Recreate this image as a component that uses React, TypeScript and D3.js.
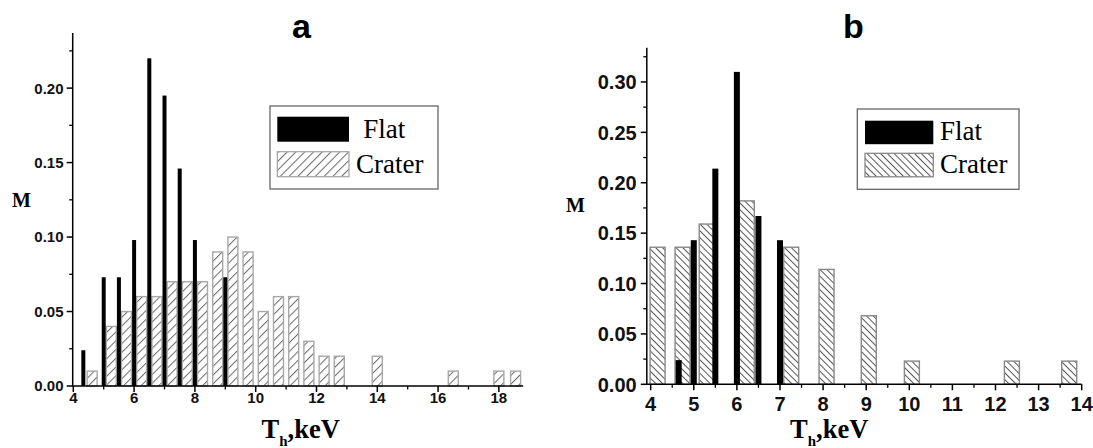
import React from 'react';
import * as d3 from 'd3';

// ---------- data ----------
const aFlatT = [4.33, 5, 5.5, 6, 6.5, 7, 7.5, 8, 9];
const aFlatM = [0.024, 0.073, 0.073, 0.098, 0.22, 0.195, 0.146, 0.098, 0.073];
const aCraterT = [4.62, 5.25, 5.75, 6.25, 6.75, 7.25, 7.75, 8.25, 8.75, 9.25, 9.75, 10.25, 10.75, 11.25, 11.75, 12.25, 12.75, 14.0, 16.5, 18.0, 18.55];
const aCraterM = [0.01, 0.04, 0.05, 0.06, 0.06, 0.07, 0.07, 0.07, 0.09, 0.10, 0.09, 0.05, 0.06, 0.06, 0.03, 0.02, 0.02, 0.02, 0.01, 0.01, 0.01];

const bFlatT = [4.65, 5, 5.5, 6, 6.5, 7];
const bFlatM = [0.024, 0.143, 0.214, 0.31, 0.167, 0.143];
const bCraterT = [4.16, 4.74, 5.3, 6.23, 7.26, 8.08, 9.06, 10.06, 12.38, 13.71];
const bCraterM = [0.136, 0.136, 0.159, 0.182, 0.136, 0.114, 0.068, 0.023, 0.023, 0.023];

const aXTicks = [4, 6, 8, 10, 12, 14, 16, 18];
const aXMinor = [5, 7, 9, 11, 13, 15, 17];
const aYTicks = [0, 0.05, 0.1, 0.15, 0.2];
const aYMinor = [0.025, 0.075, 0.125, 0.175, 0.225];

const bXTicks = [4, 5, 6, 7, 8, 9, 10, 11, 12, 13, 14];
const bXMinor = [4.5, 5.5, 6.5, 7.5, 8.5, 9.5, 10.5, 11.5, 12.5, 13.5];
const bYTicks = [0, 0.05, 0.1, 0.15, 0.2, 0.25, 0.3];
const bYMinor = [0.025, 0.075, 0.125, 0.175, 0.225, 0.275, 0.325];

const legendLabels = ['Flat', 'Crater'];

const SANS = '"Liberation Sans", Arial, sans-serif';
const SERIF = '"Liberation Serif", "Times New Roman", serif';

type PanelProps = {
  id: string;
  title: string;
  flatT: number[]; flatM: number[];
  craterT: number[]; craterM: number[];
  xTicks: number[]; xMinor: number[];
  yTicks: number[]; yMinor: number[];
  xDomain: [number, number]; xRange: [number, number];
  yDomain: [number, number]; yRange: [number, number];
  flatW: number; craterW: number;
  tickFont: number; xLabelBaseline: number; yLabelRight: number;
  titleX: number;
  mX: number; mY: number;
  xTitleX: number;
  legend: { x: number; y: number; w: number; h: number; sx: number; sw: number; s1y: number; s2y: number; sh: number; t1x: number; t1y: number; t2x: number; t2y: number };
  hatchSpacing: number; hatchAngle: number; hatchColor: string; craterBorder: string;
};

function Panel(p: PanelProps) {
  const x = d3.scaleLinear().domain(p.xDomain).range(p.xRange);
  const y = d3.scaleLinear().domain(p.yDomain).range(p.yRange);
  const y0 = y(0);
  const xAxisX0 = p.xRange[0];
  const fmt = d3.format('.2f');
  const patId = `hatch-${p.id}`;
  const L = p.legend;
  return (
    <g>
      <defs>
        <pattern id={patId} patternUnits="userSpaceOnUse" width={p.hatchSpacing} height={p.hatchSpacing}
          patternTransform={`rotate(${p.hatchAngle})`}>
          <rect width={p.hatchSpacing} height={p.hatchSpacing} fill="#fff" />
          <line x1={0.5} y1={0} x2={0.5} y2={p.hatchSpacing} stroke={p.hatchColor} strokeWidth={1} />
        </pattern>
      </defs>
      {/* crater bars */}
      {p.craterT.map((t, i) => (
        <rect key={'c' + i} x={x(t) - p.craterW / 2} y={y(p.craterM[i])} width={p.craterW}
          height={y0 - y(p.craterM[i])} fill={`url(#${patId})`} stroke={p.craterBorder} strokeWidth={1.4} />
      ))}
      {/* flat bars */}
      {p.flatT.map((t, i) => (
        <rect key={'f' + i} x={x(t) - p.flatW / 2} y={y(p.flatM[i])} width={p.flatW}
          height={y0 - y(p.flatM[i])} fill="#000" />
      ))}
      {/* axes */}
      <line x1={xAxisX0} x2={p.xRange[1]} y1={y0} y2={y0} stroke="#000" strokeWidth={1.5} />
      <line x1={xAxisX0} x2={xAxisX0} y1={y0 + 0.75} y2={p.yRange[1]} stroke="#000" strokeWidth={1.5} />
      {p.xTicks.map((t) => (
        <g key={'xt' + t}>
          <line x1={x(t)} x2={x(t)} y1={y0} y2={y0 + 6} stroke="#000" strokeWidth={1.5} />
          <text x={x(t)} y={p.xLabelBaseline} textAnchor="middle" fontFamily={SANS} fontWeight="bold" fontSize={p.tickFont} fill="#111">{t}</text>
        </g>
      ))}
      {p.xMinor.map((t) => (
        <line key={'xm' + t} x1={x(t)} x2={x(t)} y1={y0} y2={y0 + 3.5} stroke="#000" strokeWidth={1.3} />
      ))}
      {p.yTicks.map((v) => (
        <g key={'yt' + v}>
          <line x1={xAxisX0 - 6} x2={xAxisX0} y1={y(v)} y2={y(v)} stroke="#000" strokeWidth={1.5} />
          <text x={p.yLabelRight} y={y(v)} dy="0.36em" textAnchor="end" fontFamily={SANS} fontWeight="bold" fontSize={p.tickFont} fill="#111">{fmt(v)}</text>
        </g>
      ))}
      {p.yMinor.map((v) => (
        <line key={'ym' + v} x1={xAxisX0 - 3.5} x2={xAxisX0} y1={y(v)} y2={y(v)} stroke="#000" strokeWidth={1.3} />
      ))}
      {/* titles */}
      <text x={p.titleX} y={38} textAnchor="middle" fontFamily={SANS} fontWeight="bold" fontSize={34} fill="#000">{p.title}</text>
      <text x={p.mX} y={p.mY} fontFamily={SERIF} fontWeight="bold" fontSize={20} fill="#000">M</text>
      <text x={p.xTitleX} y={437.5} fontFamily={SERIF} fontWeight="bold" fontSize={26.5} fill="#000">
        T<tspan dy={8.5} fontSize={15}>h</tspan><tspan dy={-8.5}>,keV</tspan>
      </text>
      {/* legend */}
      <rect x={L.x} y={L.y} width={L.w} height={L.h} fill="#fff" stroke="#666" strokeWidth={1.3} />
      <rect x={L.sx} y={L.s1y} width={L.sw} height={L.sh} fill="#000" />
      <rect x={L.sx} y={L.s2y} width={L.sw} height={L.sh} fill={`url(#${patId})`} stroke={p.craterBorder} strokeWidth={1.3} />
      <text x={L.t1x} y={L.t1y} fontFamily={SERIF} fontSize={27} fill="#000">{legendLabels[0]}</text>
      <text x={L.t2x} y={L.t2y} fontFamily={SERIF} fontSize={27} fill="#000">{legendLabels[1]}</text>
    </g>
  );
}

export default function App() {
  return (
    <svg width={1093} height={448} style={{ position: 'absolute', left: 0, top: 0, background: '#fff' }}>
      <rect width={1093} height={448} fill="#fff" />
      <Panel id="a" title="a"
        flatT={aFlatT} flatM={aFlatM} craterT={aCraterT} craterM={aCraterM}
        xTicks={aXTicks} xMinor={aXMinor} yTicks={aYTicks} yMinor={aYMinor}
        xDomain={[3.98, 18.8]} xRange={[72.7, 523.2]}
        yDomain={[0, 0.237]} yRange={[386, 33]}
        flatW={4} craterW={10}
        tickFont={15} xLabelBaseline={402.5} yLabelRight={63.5}
        titleX={301.5} mX={12} mY={206.5} xTitleX={261.5}
        legend={{ x: 270, y: 106, w: 168, h: 83, sx: 277.3, sw: 71.7, s1y: 116.7, s2y: 151.7, sh: 25, t1x: 363.3, t1y: 138.3, t2x: 356, t2y: 173.3 }}
        hatchSpacing={6.2} hatchAngle={45} hatchColor="#6a6a6a" craterBorder="#a8a8a8" />
      <Panel id="b" title="b"
        flatT={bFlatT} flatM={bFlatM} craterT={bCraterT} craterM={bCraterM}
        xTicks={bXTicks} xMinor={bXMinor} yTicks={bYTicks} yMinor={bYMinor}
        xDomain={[3.91, 14.0]} xRange={[646.8, 1081.7]}
        yDomain={[0, 0.334]} yRange={[384.3, 47.7]}
        flatW={6} craterW={15}
        tickFont={20} xLabelBaseline={411} yLabelRight={636.7}
        titleX={853.3} mX={566} mY={211.5} xTitleX={790}
        legend={{ x: 857.3, y: 109, w: 161.7, h: 80.3, sx: 865, sw: 68.3, s1y: 120.7, s2y: 153.3, sh: 23.5, t1x: 940, t1y: 140, t2x: 940, t2y: 173.3 }}
        hatchSpacing={4.8} hatchAngle={-45} hatchColor="#555" craterBorder="#888" />
    </svg>
  );
}
